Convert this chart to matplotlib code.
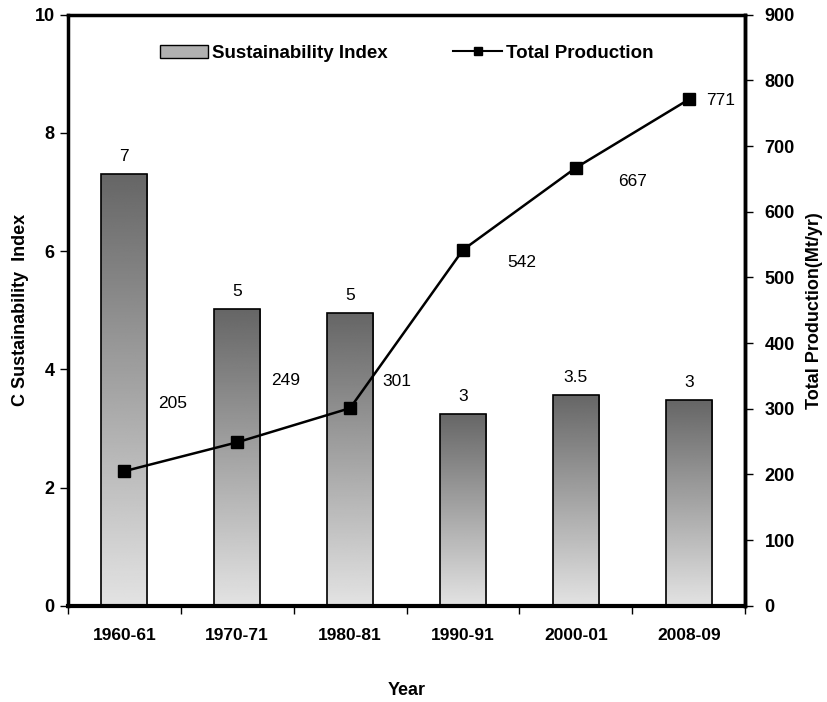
import numpy as np
import matplotlib.pyplot as plt
from matplotlib.lines import Line2D
from matplotlib.patches import Patch

plt.rcParams['font.family'] = ['Liberation Sans', 'DejaVu Sans']

# --- data ---
years = ["1960-61", "1970-71", "1980-81", "1990-91", "2000-01", "2008-09"]
sust_index = [7.3, 5.02, 4.95, 3.25, 3.57, 3.48]
sust_labels = ["7", "5", "5", "3", "3.5", "3"]
production = [205, 249, 301, 542, 667, 771]
prod_offsets = [(48, 68), (48, 62), (47, 27), (59, -13), (57, -14), (32, -1)]

fig = plt.figure(figsize=(8.28, 7.02), dpi=100)
ax = fig.add_axes([0.082, 0.137, 0.818, 0.842])
x = np.arange(len(years))

# gradient bars: dark at top, light at bottom
grad = np.linspace(0.40, 0.89, 256).reshape(-1, 1)
bars = ax.bar(x, sust_index, width=0.41, color='none', edgecolor='black', linewidth=1.2, zorder=3)
for b in bars:
    bx, by = b.get_x(), b.get_y()
    w, h = b.get_width(), b.get_height()
    im = ax.imshow(grad, cmap='gray', vmin=0, vmax=1, aspect='auto',
                   extent=(bx, bx + w, h, by), origin='lower', zorder=2)
    im.set_clip_path(b)
for xi, v, lab in zip(x, sust_index, sust_labels):
    ax.annotate(lab, (xi, v), xytext=(0, 10), textcoords='offset pixels',
                ha='center', va='bottom', fontsize=12.5)

ax.set_xlim(-0.5, len(years) - 0.5)
ax.set_ylim(0, 10)
ax.set_yticks([0, 2, 4, 6, 8, 10])
ax.set_xticks(x)
ax.set_xticklabels(years, fontsize=12.5, fontweight='bold')
ax.tick_params(axis='x', length=0, pad=16)
ax.set_xticks(np.arange(-0.5, len(years)), minor=True)
ax.tick_params(axis='x', which='minor', length=6, width=1, direction='out')
ax.tick_params(axis='y', labelsize=13, direction='out', length=6, width=1)
for t in ax.get_yticklabels():
    t.set_fontweight('bold')
ax.set_ylabel("C Sustainability  Index", fontsize=13, fontweight='bold', labelpad=4)
ax.set_xlabel("Year", fontsize=13, fontweight='bold', labelpad=28)
for s in ['left', 'top', 'right']:
    ax.spines[s].set_linewidth(2.5)
ax.spines['bottom'].set_linewidth(3)

ax2 = ax.twinx()
ax2.plot(x, production, color='black', marker='s', markersize=8, linewidth=1.8, zorder=5)
for xi, v, off in zip(x, production, prod_offsets):
    ax2.annotate(str(v), (xi, v), xytext=off, textcoords='offset pixels',
                 ha='center', va='center', fontsize=12.5)
ax2.set_ylim(0, 900)
ax2.set_yticks(range(0, 901, 100))
ax2.tick_params(axis='y', labelsize=13, direction='out', length=6, width=1, pad=8)
for t in ax2.get_yticklabels():
    t.set_fontweight('bold')
ax2.set_ylabel("Total Production(Mt/yr)", fontsize=13, fontweight='bold', labelpad=8)
for s in ax2.spines.values():
    s.set_visible(False)
ax2.spines['right'].set_visible(True)
ax2.spines['right'].set_linewidth(2.5)

handles = [Patch(facecolor='#b0b0b0', edgecolor='black', label='Sustainability Index'),
           Line2D([0], [0], color='black', marker='s', markersize=6, label='Total Production')]
leg = ax.legend(handles=handles, loc='upper center', ncol=2, frameon=False,
                bbox_to_anchor=(0.5, 0.978), handlelength=2.6, handletextpad=0.2,
                columnspacing=3.5, prop={'size': 13.5, 'weight': 'bold'})

fig.savefig("out.png", dpi=100)
